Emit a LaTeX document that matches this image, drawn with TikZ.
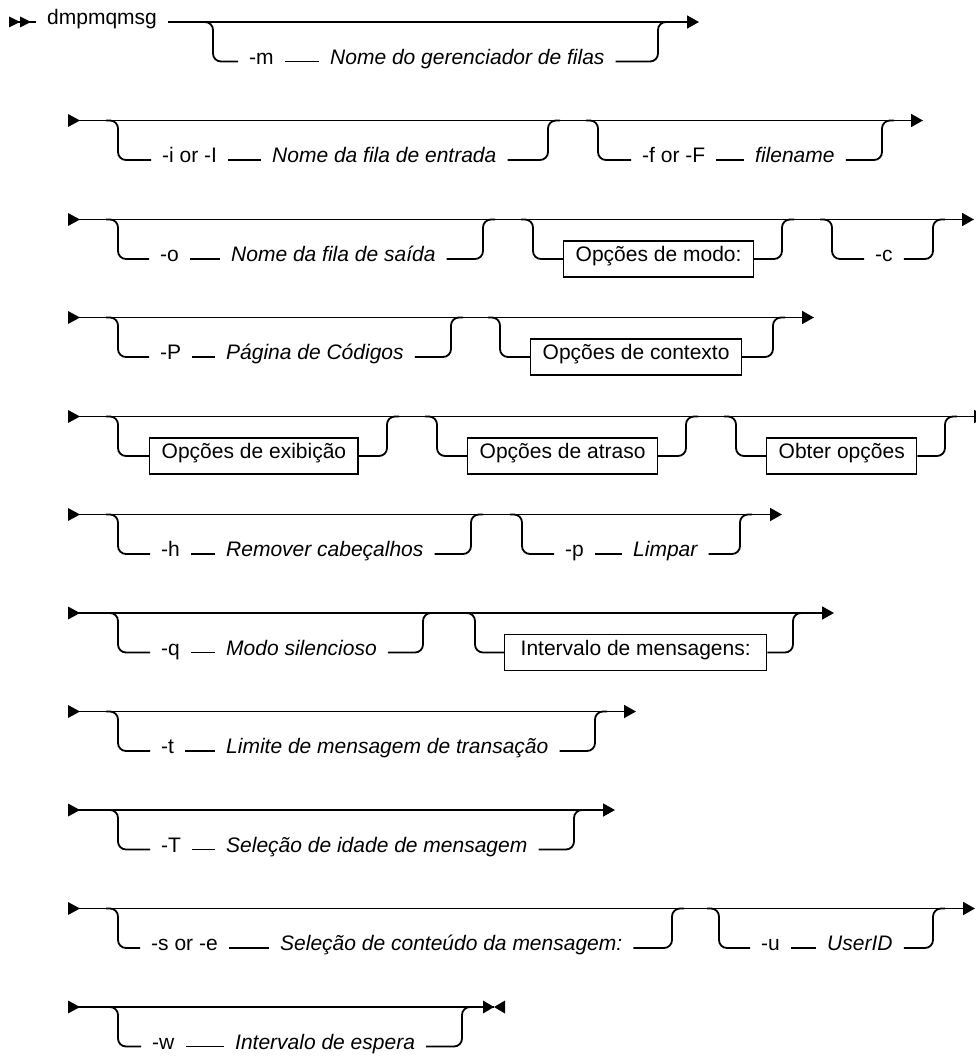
\documentclass[tikz,border=0pt]{standalone}
\usepackage{fontspec}
\setmainfont{Liberation Sans}
\usetikzlibrary{arrows.meta}
\newcommand\brL[3]{\draw[rail] (#1-12,#2) -- (#1,#2) -- (#1,#2+39.5) -- (#3.west);}
\newcommand\brR[3]{\draw[rail] (#3.east) -- (#1,#2+39.5) -- (#1,#2) -- (#1+12,#2);}
\newcommand\rstart[2]{\coordinate (#1) at (68,#2); \fill (68,#2-6.5) -- (80,#2) -- (68,#2+6.5) -- cycle;}
\begin{document}
\begin{tikzpicture}[x=1pt,y=-1pt, font=\fontsize{21}{25}\selectfont,
 rail/.style={line width=1.8pt, rounded corners=8pt},
 lbl/.style={inner xsep=11pt, inner ysep=0pt, text height=0.75em, text depth=0.25em, anchor=west},
 var/.style={lbl, font=\fontsize{21}{25}\selectfont\itshape},
 optbox/.style={draw, line width=1.4pt, rounded corners=0pt, inner xsep=12pt, inner ysep=0pt, minimum height=36pt, text height=0.75em, text depth=0.25em, anchor=west},
 endarrow/.style={-{Triangle[length=12pt,width=13pt]}}]
\clip (0,0) rectangle (976,1057);
\useasboundingbox (0,0) rectangle (976,1057);
% Row 1
\coordinate (s1) at (9,22); \coordinate (e1) at (699,22);
\fill (9,16.5) -- (20,22) -- (9,27.5) -- cycle;
\fill (20,16.5) -- (31,22) -- (20,27.5) -- cycle;
\node[lbl] (cmd) at (36,22) {dmpmqmsg};
\draw[rail] (s1) -- (cmd.west);
\draw[rail,endarrow] (cmd.east) -- (e1);
\node[lbl] (m) at (238,61.5) {-m};
\node[var] (mv) at (319,61.5) {Nome do gerenciador de filas};
\draw[rail] (m.east) -- (mv.west);
\brL{213}{22}{m} \brR{658}{22}{mv}
% Row 2
\rstart{s2}{120.5} \coordinate (e2) at (923,120.5);
\draw[rail,endarrow] (s2) -- (e2);
\node[lbl] (i) at (151,160) {-i or -I};
\node[var] (iv) at (261,160) {Nome da fila de entrada};
\draw[rail] (i.east) -- (iv.west);
\brL{118}{120.5}{i} \brR{548}{120.5}{iv}
\node[lbl] (f) at (631,160) {-f or -F};
\node[var] (fv) at (744,160) {filename};
\draw[rail] (f.east) -- (fv.west);
\brL{598}{120.5}{f} \brR{882}{120.5}{fv}
% Row 3
\rstart{s3}{219.5} \coordinate (e3) at (974,219.5);
\draw[rail,endarrow] (s3) -- (e3);
\node[lbl] (o) at (149,259) {-o};
\node[var] (ov) at (220,259) {Nome da fila de saída};
\draw[rail] (o.east) -- (ov.west);
\brL{118}{219.5}{o} \brR{483}{219.5}{ov}
\node[optbox] (mode) at (563,259) {Opções de modo:};
\brL{533}{219.5}{mode} \brR{782}{219.5}{mode}
\node[lbl] (c) at (864,259) {-c};
\brL{832}{219.5}{c} \brR{933}{219.5}{c}
% Row 4
\rstart{s4}{317.5} \coordinate (e4) at (814,317.5);
\draw[rail,endarrow] (s4) -- (e4);
\node[lbl] (P) at (149,357) {-P};
\node[var] (Pv) at (215,357) {Página de Códigos};
\draw[rail] (P.east) -- (Pv.west);
\brL{118}{317.5}{P} \brR{451}{317.5}{Pv}
\node[optbox] (ctx) at (530,357) {Opções de contexto};
\brL{500}{317.5}{ctx} \brR{773}{317.5}{ctx}
% Row 5
\rstart{s5}{416.5} \coordinate (e5) at (986,416.5);
\draw[rail,endarrow] (s5) -- (e5);
\node[optbox] (exib) at (149,456) {Opções de exibição};
\brL{118}{416.5}{exib} \brR{387}{416.5}{exib}
\node[optbox] (atr) at (467,456) {Opções de atraso};
\brL{437}{416.5}{atr} \brR{686}{416.5}{atr}
\node[optbox] (obt) at (766,456) {Obter opções};
\brL{736}{416.5}{obt} \brR{945}{416.5}{obt}
% Row 6
\rstart{s6}{514.5} \coordinate (e6) at (782,514.5);
\draw[rail,endarrow] (s6) -- (e6);
\node[lbl] (h) at (150,554) {-h};
\node[var] (hv) at (215,554) {Remover cabeçalhos};
\draw[rail] (h.east) -- (hv.west);
\brL{118}{514.5}{h} \brR{471}{514.5}{hv}
\node[lbl] (p) at (554,554) {-p};
\node[var] (pv) at (622,554) {Limpar};
\draw[rail] (p.east) -- (pv.west);
\brL{522}{514.5}{p} \brR{740}{514.5}{pv}
% Row 7
\rstart{s7}{613} \coordinate (e7) at (834,613);
\draw[rail,endarrow] (s7) -- (e7);
\node[lbl] (q) at (150,652.5) {-q};
\node[var] (qv) at (215,652.5) {Modo silencioso};
\draw[rail] (q.east) -- (qv.west);
\brL{118}{613}{q} \brR{423}{613}{qv}
\node[optbox, inner xsep=16pt] (intv) at (504,652.5) {Intervalo de mensagens:};
\brL{475}{613}{intv} \brR{793}{613}{intv}
% Row 8
\rstart{s8}{711.5} \coordinate (e8) at (636,711.5);
\draw[rail,endarrow] (s8) -- (e8);
\node[lbl] (t) at (150,751) {-t};
\node[var] (tv) at (215,751) {Limite de mensagem de transação};
\draw[rail] (t.east) -- (tv.west);
\brL{118}{711.5}{t} \brR{595}{711.5}{tv}
% Row 9
\rstart{s9}{810} \coordinate (e9) at (615,810);
\draw[rail,endarrow] (s9) -- (e9);
\node[lbl] (T) at (150,849.5) {-T};
\node[var] (Tv) at (215,849.5) {Seleção de idade de mensagem};
\draw[rail] (T.east) -- (Tv.west);
\brL{118}{810}{T} \brR{574}{810}{Tv}
% Row 10
\rstart{s10}{908.5} \coordinate (e10) at (975,908.5);
\draw[rail,endarrow] (s10) -- (e10);
\node[lbl] (s) at (140,948) {-s or -e};
\node[var] (sv) at (269,948) {Seleção de conteúdo da mensagem:};
\draw[rail] (s.east) -- (sv.west);
\brL{118}{908.5}{s} \brR{672}{908.5}{sv}
\node[lbl] (u) at (750,948) {-u};
\node[var] (uv) at (816,948) {UserID};
\draw[rail] (u.east) -- (uv.west);
\brL{719}{908.5}{u} \brR{933}{908.5}{uv}
% Row 11
\rstart{s11}{1007} \coordinate (e11) at (494,1007);
\draw[rail] (s11) -- (e11);
\fill (483,1000.5) -- (e11) -- (483,1013.5) -- cycle;
\fill (505,1000.5) -- (e11) -- (505,1013.5) -- cycle;
\node[lbl] (w) at (141,1046.5) {-w};
\node[var] (wv) at (224,1046.5) {Intervalo de espera};
\draw[rail] (w.east) -- (wv.west);
\brL{118}{1007}{w} \brR{462}{1007}{wv}
\end{tikzpicture}
\end{document}
